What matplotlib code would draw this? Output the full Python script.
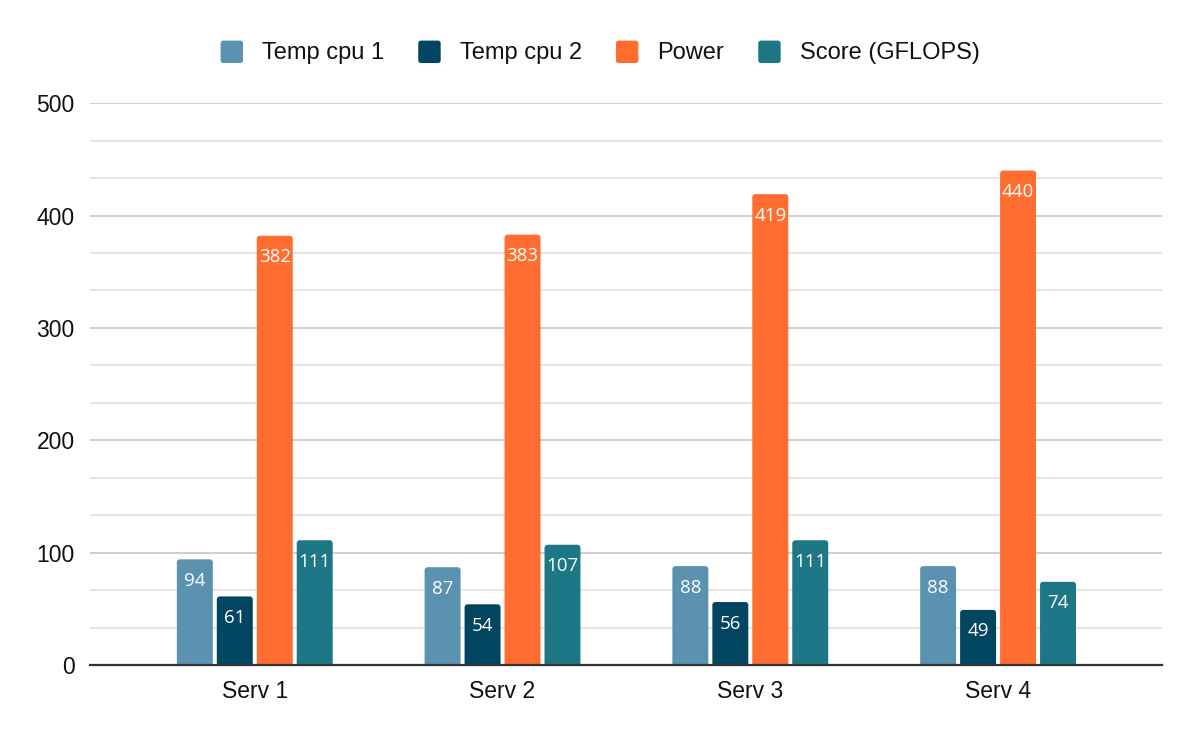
import matplotlib
matplotlib.use("Agg")
import matplotlib.pyplot as plt
import numpy as np
from matplotlib.ticker import MultipleLocator
from matplotlib.patches import FancyBboxPatch, Patch
from matplotlib.legend_handler import HandlerPatch

categories = ["Serv 1", "Serv 2", "Serv 3", "Serv 4"]
series_names = ["Temp cpu 1", "Temp cpu 2", "Power", "Score (GFLOPS)"]
temp_cpu1 = [94, 87, 88, 88]
temp_cpu2 = [61, 54, 56, 49]
power = [382, 383, 419, 440]
score = [111, 107, 111, 74]
colors = ["#5a92b0", "#024560", "#ff6d31", "#1e7787"]

series = [temp_cpu1, temp_cpu2, power, score]

fig = plt.figure(figsize=(12, 7.42), dpi=100)
ax = fig.add_axes([0.075, 0.1038, 0.893, 0.7572])

xlim = (-0.665, 3.66)
ylim = (0, 500)
ax.set_xlim(*xlim)
ax.set_ylim(*ylim)

# pixel scales for rounded corners
ax_w_px = 0.893 * 1200
ax_h_px = 0.7572 * 742
px_x = (xlim[1] - xlim[0]) / ax_w_px
px_y = (ylim[1] - ylim[0]) / ax_h_px
r_px = 3.0

x = np.arange(len(categories))
step = 40 / 248
width = 36 / 248
for i, (name, vals, c) in enumerate(zip(series_names, series, colors)):
    pos = x + (i - 1.5) * step
    bars = ax.bar(pos, vals, width=width, color=c, zorder=3)
    for b, v in zip(bars, vals):
        b.set_visible(False)
        x0 = b.get_x()
        ext = 10 * px_y
        patch = FancyBboxPatch((x0, -ext), b.get_width(), v + ext,
                               boxstyle=f"round,pad=0,rounding_size={r_px * px_x}",
                               mutation_aspect=px_y / px_x,
                               facecolor=c, edgecolor="none", zorder=3)
        ax.add_patch(patch)
        ax.annotate(str(v), (x0 + b.get_width() / 2, v),
                    xytext=(0, -15.5), textcoords="offset points",
                    ha="center", va="center", color="white",
                    fontsize=13.5, family="Open Sans", zorder=4)

ax.yaxis.set_major_locator(MultipleLocator(100))
ax.yaxis.set_minor_locator(MultipleLocator(100 / 3))
ax.grid(axis="y", which="major", color="#cccccc", linewidth=1.3, zorder=0)
ax.grid(axis="y", which="minor", color="#e3e3e3", linewidth=1.3, zorder=0)
ax.set_xticks(x)
ax.set_xticklabels(categories, fontsize=16.5, family="Liberation Sans", color="#111111")
for lab in ax.get_yticklabels():
    lab.set_fontsize(16.5)
    lab.set_family("Liberation Sans")
    lab.set_color("#111111")
ax.tick_params(axis="both", which="both", length=0)
ax.tick_params(axis="y", pad=11)
ax.tick_params(axis="x", pad=11)
for s in ["top", "right", "left"]:
    ax.spines[s].set_visible(False)
ax.spines["bottom"].set_color("#333333")
ax.spines["bottom"].set_linewidth(1.6)
ax.spines["bottom"].set_zorder(5)


class RoundHandler(HandlerPatch):
    def create_artists(self, legend, orig_handle, xdescent, ydescent,
                       width, height, fontsize, trans):
        side = min(width, height * 1.15)
        p = FancyBboxPatch((-xdescent, -ydescent - 0.08 * height), side, side,
                           boxstyle=f"round,pad=0,rounding_size={side * 0.12}",
                           facecolor=orig_handle.get_facecolor(),
                           edgecolor="none", transform=trans)
        return [p]


handles = [Patch(facecolor=c, label=n) for n, c in zip(series_names, colors)]
leg = fig.legend(handles=handles, loc="center", bbox_to_anchor=(0.5, 0.929),
                 ncol=4, frameon=False,
                 prop={"family": "Liberation Sans", "size": 17},
                 handlelength=0.95, handleheight=0.95, handletextpad=0.8,
                 columnspacing=1.45,
                 handler_map={Patch: RoundHandler()})
for t in leg.get_texts():
    t.set_color("#111111")

fig.savefig("out.png", dpi=100, facecolor="white")
